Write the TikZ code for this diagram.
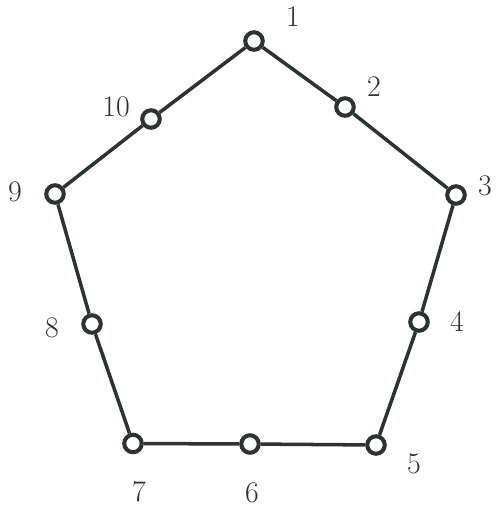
\documentclass[tikz,border=0pt]{standalone}
\usepackage{xcolor}
\definecolor{pgonink}{HTML}{2B3333}
\usepackage{tikz}
\usetikzlibrary{positioning,calc}
\tikzset{
  pgonpt/.style={circle,draw=pgonink,fill=white,line width=2.3pt,inner sep=0pt,minimum size=3.5mm},
  pgonedge/.style={draw=pgonink,line width=2pt},
  pgonlabel/.style={inner sep=1pt,text=pgonink,font=\fontsize{17}{20}\selectfont},
}
\begin{document}
\begin{tikzpicture}
  \useasboundingbox (0,0) rectangle (9.94,-10.16);
  % points on the pentagon
\node[pgonpt] (p1) at (5.08,-0.82) {};
\node[pgonpt] (p2) at (6.90,-2.14) {};
\node[pgonpt] (p3) at (9.12,-3.90) {};
\node[pgonpt] (p4) at (8.38,-6.44) {};
\node[pgonpt] (p5) at (7.52,-8.90) {};
\node[pgonpt] (p6) at (5.00,-8.88) {};
\node[pgonpt] (p7) at (2.66,-8.87) {};
\node[pgonpt] (p8) at (1.84,-6.48) {};
\node[pgonpt] (p9) at (1.10,-3.88) {};
\node[pgonpt] (p10) at (3.02,-2.38) {};
  % sides
\draw[pgonedge] (p1) -- (p2);
\draw[pgonedge] (p2) -- (p3);
\draw[pgonedge] (p3) -- (p4);
\draw[pgonedge] (p4) -- (p5);
\draw[pgonedge] (p5) -- (p6);
\draw[pgonedge] (p6) -- (p7);
\draw[pgonedge] (p7) -- (p8);
\draw[pgonedge] (p8) -- (p9);
\draw[pgonedge] (p9) -- (p10);
\draw[pgonedge] (p10) -- (p1);
  % numbers
\node[pgonlabel] (l1) at (5.86,-0.34) {1};
\node[pgonlabel] (l2) at (7.48,-1.74) {2};
\node[pgonlabel] (l3) at (9.70,-3.72) {3};
\node[pgonlabel] (l4) at (9.14,-6.44) {4};
\node[pgonlabel] (l5) at (8.28,-9.28) {5};
\node[pgonlabel] (l6) at (5.04,-9.86) {6};
\node[pgonlabel] (l7) at (2.78,-9.84) {7};
\node[pgonlabel] (l8) at (1.04,-6.56) {8};
\node[pgonlabel] (l9) at (0.30,-3.84) {9};
\node[pgonlabel] (l10) at (2.32,-2.14) {10};
\end{tikzpicture}
\end{document}
